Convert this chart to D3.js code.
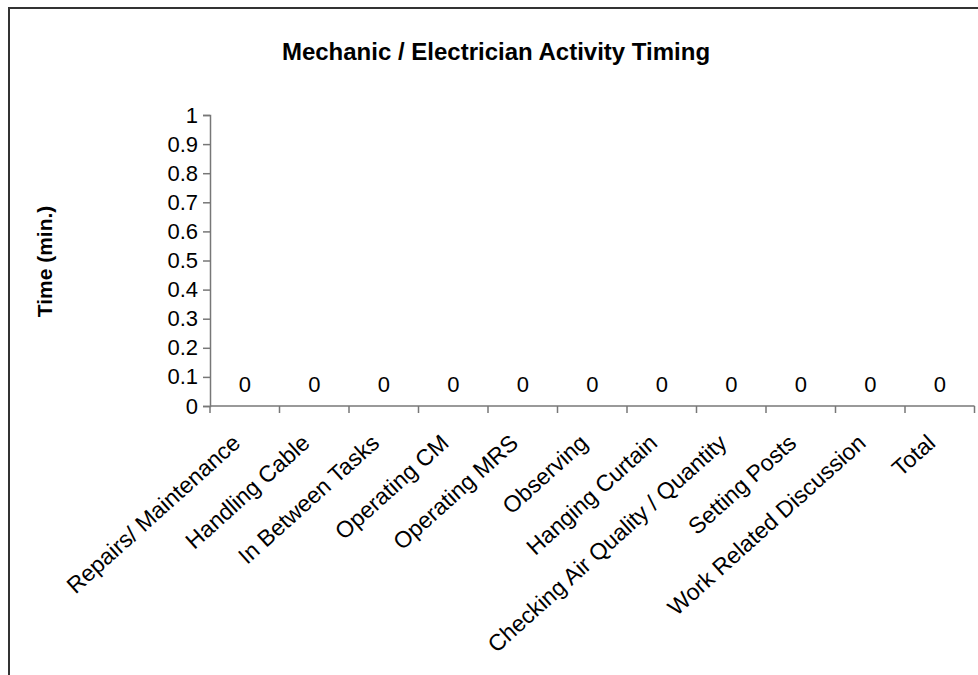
<!DOCTYPE html>
<html>
<head>
<meta charset="utf-8">
<script src="https://cdn.jsdelivr.net/npm/d3@7/dist/d3.min.js"></script>
<style>
  html, body { margin: 0; padding: 0; background: #fff; }
  svg { display: block; font-family: "Liberation Sans", Arial, sans-serif; }
</style>
</head>
<body>
<svg id="chart" width="978" height="675"></svg>
<script>
const categories = [
  "Repairs/ Maintenance",
  "Handling Cable",
  "In Between Tasks",
  "Operating CM",
  "Operating MRS",
  "Observing",
  "Hanging Curtain",
  "Checking Air Quality / Quantity",
  "Setting Posts",
  "Work Related Discussion",
  "Total"
];
const values = [0, 0, 0, 0, 0, 0, 0, 0, 0, 0, 0];
const yTicks = [0, 0.1, 0.2, 0.3, 0.4, 0.5, 0.6, 0.7, 0.8, 0.9, 1];
const titleText = "Mechanic / Electrician Activity Timing";
const yTitle = "Time (min.)";

const svg = d3.select("#chart");
const plot = { left: 210, right: 974.5, top: 115, bottom: 406 };

// outer border (right and bottom run off the page, as in the reference)
svg.append("rect")
  .attr("x", 9).attr("y", 8)
  .attr("width", 990).attr("height", 720)
  .attr("fill", "none").attr("stroke", "#333").attr("stroke-width", 2);

const x = d3.scaleBand().domain(categories).range([plot.left, plot.right]).padding(0);
const y = d3.scaleLinear().domain([0, 1]).range([plot.bottom, plot.top]);

// title
svg.append("text")
  .attr("x", 496).attr("y", 59.5)
  .attr("text-anchor", "middle")
  .attr("font-weight", "bold").attr("font-size", 24)
  .text(titleText);

// y axis title
svg.append("text")
  .attr("transform", `translate(52,${(plot.top + plot.bottom) / 2 + 1}) rotate(-90)`)
  .attr("text-anchor", "middle")
  .attr("font-weight", "bold").attr("font-size", 21)
  .text(yTitle);

// bars (zero height)
svg.append("g").selectAll("rect").data(values).join("rect")
  .attr("x", (d, i) => x(categories[i]) + x.bandwidth() * 0.25)
  .attr("width", x.bandwidth() * 0.5)
  .attr("y", d => y(d))
  .attr("height", d => y(0) - y(d))
  .attr("fill", "#9999ff");

// y axis
const yAxis = svg.append("g")
  .attr("transform", `translate(${plot.left},0)`)
  .call(d3.axisLeft(y).tickValues(yTicks).tickFormat(d3.format("")).tickSize(7).tickPadding(5));
yAxis.select(".domain").attr("stroke", "#777").attr("stroke-width", 1.5);
yAxis.selectAll(".tick line").attr("stroke", "#777").attr("stroke-width", 1.5);
yAxis.selectAll(".tick text").attr("font-size", 22).attr("fill", "#000")
  .attr("font-family", "'Liberation Sans', Arial, sans-serif");

// x axis line and boundary ticks
const xg = svg.append("g");
xg.append("line")
  .attr("x1", plot.left).attr("x2", plot.right)
  .attr("y1", y(0)).attr("y2", y(0))
  .attr("stroke", "#777").attr("stroke-width", 1.5);
const bounds = categories.map(c => x(c)).concat([x(categories[categories.length - 1]) + x.bandwidth()]);
xg.selectAll("line.tk").data(bounds).join("line")
  .attr("class", "tk")
  .attr("x1", d => d).attr("x2", d => d)
  .attr("y1", y(0)).attr("y2", y(0) + 7)
  .attr("stroke", "#777").attr("stroke-width", 1.5);

// category labels rotated
xg.selectAll("text.cat").data(categories).join("text")
  .attr("class", "cat")
  .attr("text-anchor", "end")
  .attr("font-size", 23)
  .attr("transform", d => `translate(${x(d) + x.bandwidth() / 2 - 3},${y(0) + 39}) rotate(-42)`)
  .text(d => d);

// data labels
svg.append("g").selectAll("text").data(values).join("text")
  .attr("x", (d, i) => x(categories[i]) + x.bandwidth() / 2)
  .attr("y", d => y(d) - 14)
  .attr("text-anchor", "middle")
  .attr("font-size", 22)
  .text(d => d);
</script>
</body>
</html>
